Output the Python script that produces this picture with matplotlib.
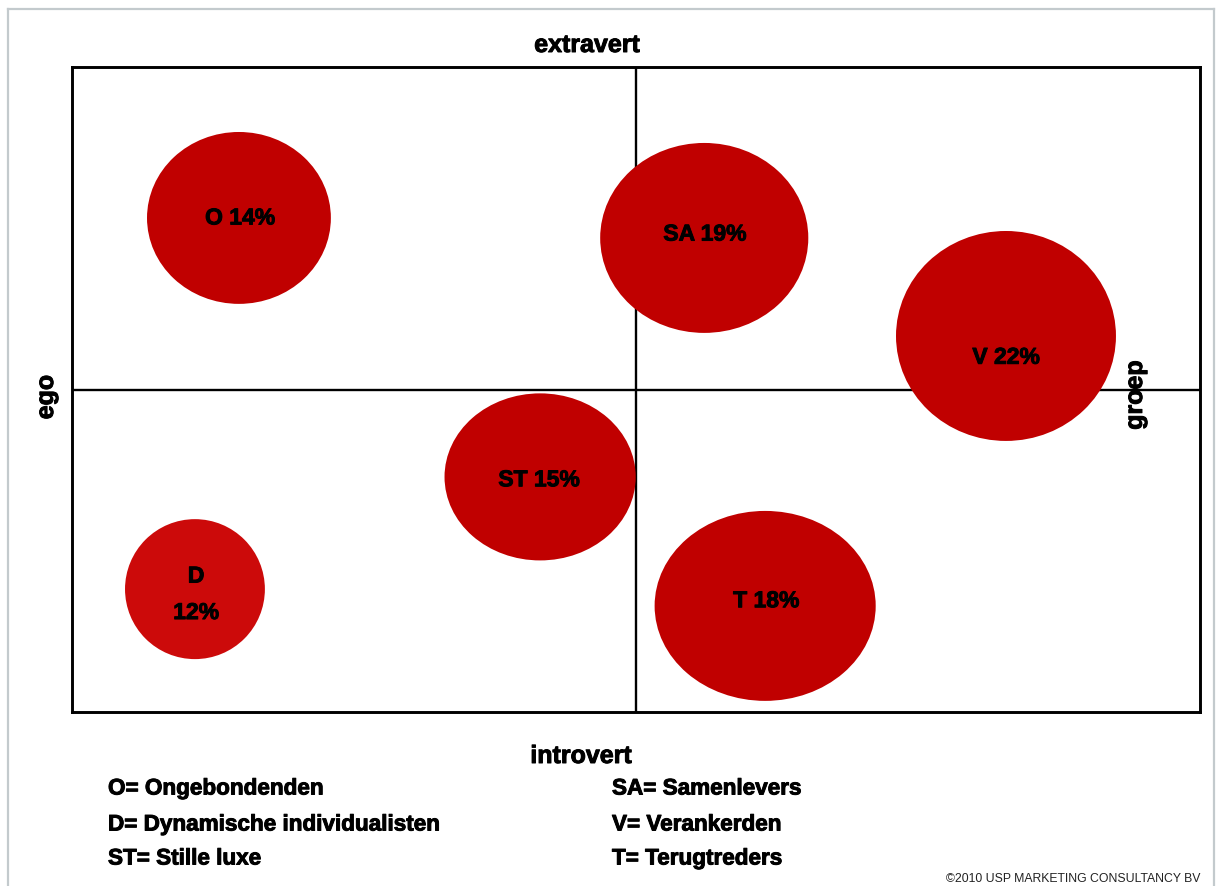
import matplotlib
matplotlib.use("Agg")
import matplotlib.pyplot as plt
from matplotlib.patches import Ellipse
from matplotlib.lines import Line2D
import matplotlib.patheffects as pe

plt.rcParams['font.family'] = ['Liberation Sans', 'DejaVu Sans']

# Segments: short code, share (%), position on the ego/groep and introvert/extravert axes
codes = ["O", "SA", "V", "ST", "D", "T"]
shares = [14, 19, 22, 15, 12, 18]
x_pos = [-7.04, 1.21, 6.56, -1.70, -7.82, 2.29]
y_pos = [5.32, 4.70, 1.66, -2.71, -6.19, -6.71]
bubble_w = [3.26, 3.69, 3.90, 3.39, 2.48, 3.92]
bubble_h = [5.33, 5.89, 6.51, 5.18, 4.34, 5.89]
label_x = [-7.02, 1.22, 6.56, -1.72, -7.80, 2.31]
label_y = [5.32, 4.82, 1.00, -2.80, -6.35, -6.55]
label_text = ["O 14%", "SA 19%", "V 22%", "ST 15%", "D\n12%", "T 18%"]
bubble_colors = ["#c00000", "#c00000", "#c00000", "#c00000", "#cc0a0a", "#c00000"]

legend_left = ["O= Ongebondenden", "D= Dynamische individualisten", "ST= Stille luxe"]
legend_right = ["SA= Samenlevers", "V= Verankerden", "T= Terugtreders"]

W, H = 1216, 887
fig = plt.figure(figsize=(W / 100, H / 100), dpi=100)
fig.patch.set_facecolor("white")

def fx(px):
    return px / W

def fy(py):
    return 1 - py / H

heavy = [pe.withStroke(linewidth=0.7, foreground="black")]

# light frame around the slide
frame_color = "#c3cacd"
for xs, ys in [([8, 8], [10, H]), ([1214, 1214], [10, H]), ([8, 1214], [10, 10])]:
    fig.add_artist(Line2D([fx(v) for v in xs], [fy(v) for v in ys],
                          color=frame_color, lw=1.6, transform=fig.transFigure))

ax = fig.add_axes([fx(72), fy(713), fx(1200) - fx(72), fy(68) - fy(713)])
ax.set_xlim(-10, 10)
ax.set_ylim(-10, 10)
ax.set_xticks([])
ax.set_yticks([])
for sp in ax.spines.values():
    sp.set_linewidth(2.1)
    sp.set_color("black")

ax.axvline(0, color="black", lw=1.7, zorder=1)
ax.axhline(0, color="black", lw=1.7, zorder=1)

for i in range(len(codes)):
    ax.add_patch(Ellipse((x_pos[i], y_pos[i]), bubble_w[i], bubble_h[i],
                         facecolor=bubble_colors[i], edgecolor="none", zorder=2))
    ax.text(label_x[i], label_y[i], label_text[i], ha="center", va="center",
            fontsize=16.5, fontweight="bold", color="black", zorder=3,
            linespacing=1.75, path_effects=heavy)

# axis captions
fig.text(fx(587), fy(46), "extravert", ha="center", va="center",
         fontsize=18, fontweight="bold", path_effects=heavy)
fig.text(fx(581), fy(757), "introvert", ha="center", va="center",
         fontsize=18, fontweight="bold", path_effects=heavy)
fig.text(fx(46), fy(398), "ego", ha="center", va="center", rotation=90,
         fontsize=18, fontweight="bold", path_effects=heavy)
fig.text(fx(1135), fy(396), "groep", ha="center", va="center", rotation=90,
         fontsize=18, fontweight="bold", path_effects=heavy)

# segment key
rows_y = [790, 826, 860]
for t, ry in zip(legend_left, rows_y):
    fig.text(fx(108), fy(ry), t, ha="left", va="center", fontsize=16.2,
             fontweight="bold", path_effects=heavy)
for t, ry in zip(legend_right, rows_y):
    fig.text(fx(612), fy(ry), t, ha="left", va="center", fontsize=16.2,
             fontweight="bold", path_effects=heavy)

fig.text(fx(1200), fy(885), "\u00a92010 USP MARKETING CONSULTANCY BV",
         ha="right", va="bottom", fontsize=8.8, color="#222222")

fig.savefig("out.png", dpi=100, facecolor="white")
